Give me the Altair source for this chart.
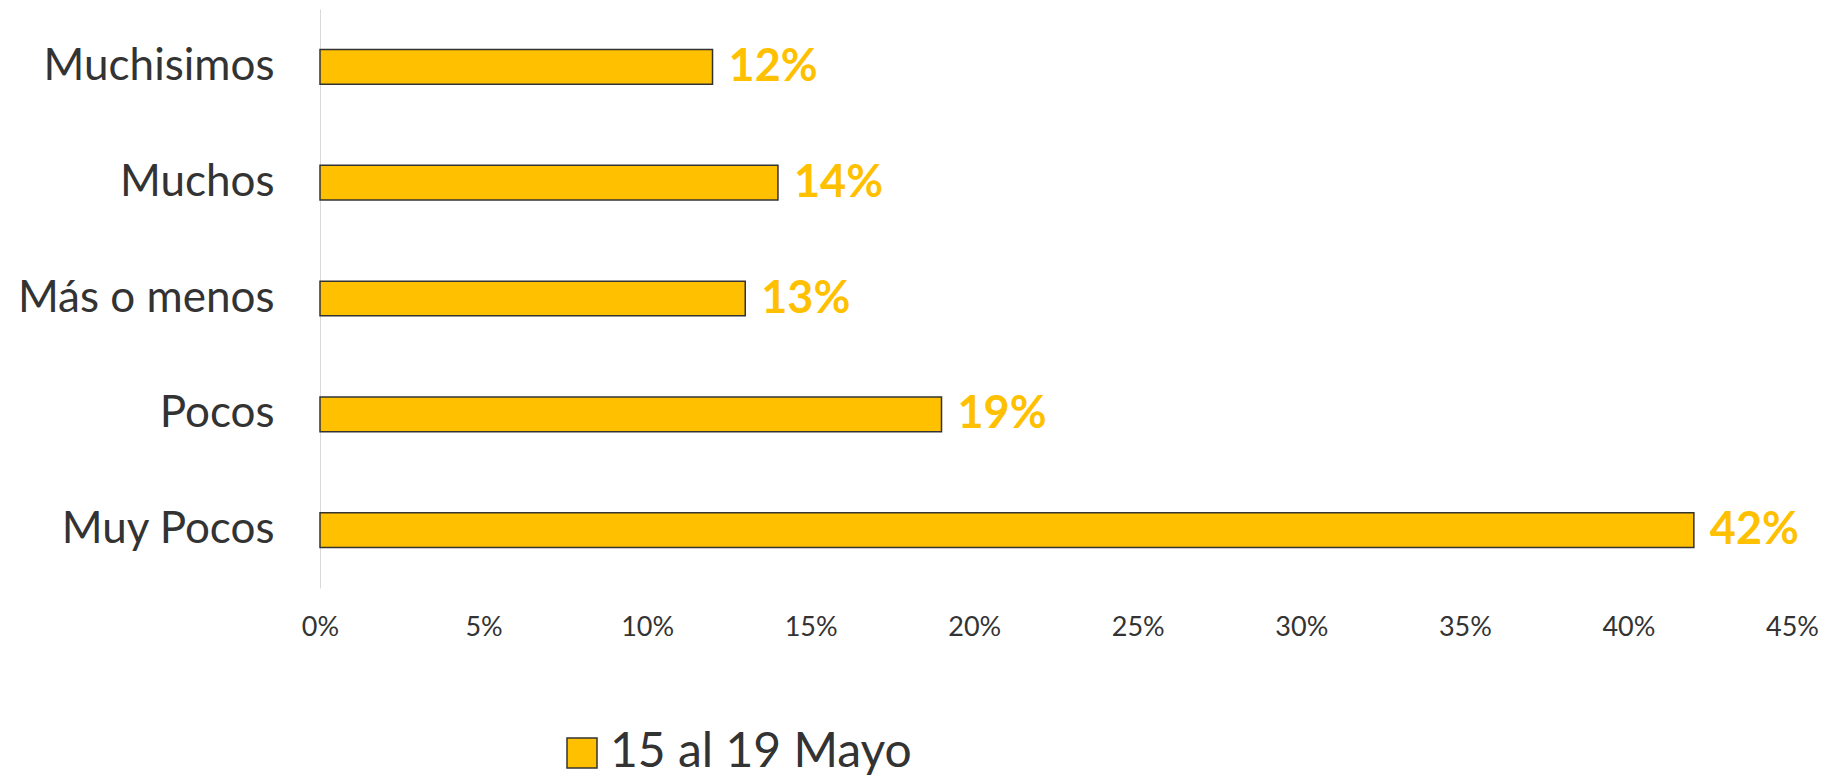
import altair as alt
import pandas as pd

categories = ["Muchisimos", "Muchos", "Más o menos", "Pocos", "Muy Pocos"]
values = [0.12, 0.14, 0.13, 0.19, 0.42]
labels = ["12%", "14%", "13%", "19%", "42%"]
series = "15 al 19 Mayo"
tick_values = [0, 0.05, 0.10, 0.15, 0.20, 0.25, 0.30, 0.35, 0.40, 0.45]

df = pd.DataFrame({"cat": categories, "val": values, "lab": labels, "series": [series] * len(categories)})

FONT = "Lato"
TXT = "#333333"
GOLD = "#FFC000"

y_enc = alt.Y("cat:N", sort=categories, title=None,
              scale=alt.Scale(paddingInner=0.7, paddingOuter=0.35),
              axis=alt.Axis(domain=True, domainColor="#d9d9d9", domainWidth=1, ticks=False,
                            grid=False, labelFont=FONT, labelFontSize=44, labelColor=TXT,
                            labelPadding=46, labelLimit=500))
x_enc = alt.X("val:Q", title=None,
              scale=alt.Scale(domain=[0, 0.45], nice=False),
              axis=alt.Axis(values=tick_values, format=".0%", domain=False, ticks=False,
                            grid=False, labelFont=FONT, labelFontSize=27, labelColor=TXT,
                            labelPadding=26, labelFlush=False))

bars = alt.Chart(df).mark_bar(stroke="#333333", strokeWidth=1.5).encode(
    y=y_enc, x=x_enc,
    color=alt.Color("series:N", title=None,
                    scale=alt.Scale(domain=[series], range=[GOLD]),
                    legend=alt.Legend(orient="none", legendX=238, legendY=720,
                                      symbolType="square", symbolSize=900,
                                      symbolStrokeColor="#333333", symbolStrokeWidth=1.5,
                                      labelFont=FONT, labelFontSize=48, labelColor=TXT,
                                      labelOffset=4, labelLimit=600)),
)

text = alt.Chart(df).mark_text(align="left", baseline="middle", dx=16, font=FONT,
                               fontSize=45, fontWeight="bold", color=GOLD).encode(
    y=alt.Y("cat:N", sort=categories), x="val:Q", text="lab:N")

chart = (bars + text).properties(
    width=1472, height=579,
    autosize=alt.AutoSizeParams(type="none"),
    padding={"left": 312, "top": 1, "right": 30, "bottom": 200},
).configure_view(stroke=None)

chart.save("out.html", embed_options={"renderer": "svg", "actions": False})
